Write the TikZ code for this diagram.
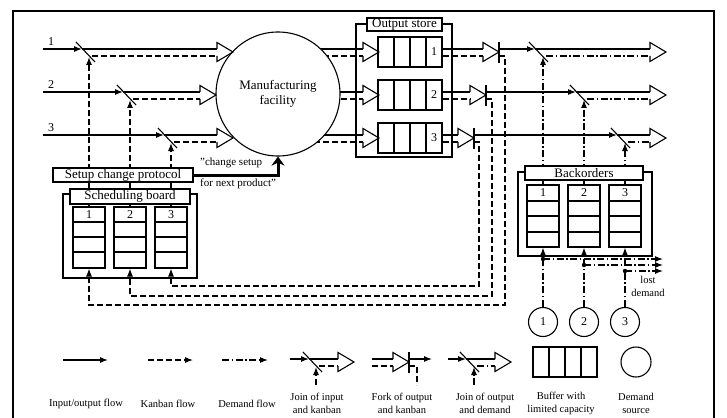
\documentclass[tikz,border=0pt]{standalone}
\usepackage{fontspec}
\setmainfont{Liberation Serif}
\usetikzlibrary{positioning,arrows.meta,backgrounds}
\newcommand{\fsz}[2]{\fontsize{#1}{#2}\selectfont}

\begin{document}
\begin{tikzpicture}[x=1pt,y=-1pt,
   io/.style={line width=1.1pt},
   kb/.style={line width=1.1pt,dash pattern=on 6pt off 3pt},
   dm/.style={line width=1.1pt,dash pattern=on 7pt off 2.5pt on 1.5pt off 2.5pt},
   headed/.style={-{Latex[length=8pt,width=6pt]}},
   tag/.style={draw,fill=white,line width=1.1pt,inner sep=0pt,font=\fsz{13}{15}},
   col/.style={draw,line width=1.1pt,inner sep=0pt,minimum width=32pt},
   num/.style={font=\fsz{12}{14},inner sep=0pt},
   legtxt/.style={align=center,font=\fsz{10.5}{13},inner sep=0pt},
   hollowhead/.pic={\draw[line width=1.1pt] (0,-3) -- (0,-9.5) -- (16,0) -- (0,9.5) -- (0,4);},
   joinbar/.pic={\draw[line width=1.1pt] (-5,-10) -- (14,10);},
   forkbar/.pic={\draw[line width=1.1pt] (0,-10) -- (0,11);}]
 \useasboundingbox (0,0) rectangle (727,417);
 % frame, open at the bottom
 \draw[line width=2.5pt] (13,425) -- (13,11) -- (714,11) -- (714,425);

 % facility
 \node[draw,circle,fill=white,line width=1.1pt,minimum size=124pt,inner sep=0pt,
   align=center,font=\fsz{13}{15}] (fac) at (278,94) {Manufacturing\\facility};

 % scheduling board columns
 \draw[io] (63,194) rectangle (197,278);
 \foreach \i/\x in {1/89,2/130,3/171} {
   \node[col,minimum height=61pt] (sc\i) at (\x,237.5) {};
   \foreach \yy in {222,237,252} \draw[io] (\x-16,\yy) -- (\x+16,\yy);
   \node[num] at (\x,214.5) {\i};
 }
 % backorder columns
 \draw[io] (518,172) rectangle (652,256);
 \foreach \i/\x in {1/543,2/584,3/625} {
   \node[col,minimum height=62pt] (bo\i) at (\x,216) {};
   \foreach \yy in {201,216,232} \draw[io] (\x-16,\yy) -- (\x+16,\yy);
   \node[num] at (\x,193) {\i};
 }
 % output store
 \draw[io] (356,24) rectangle (452,157);

 % the three product rows
 \foreach \row/\cy/\ji/\hb/\fb/\jo/\kx/\ky in
   {1/52/81/217/483/534/505/305, 2/95/122/200/470/575/492/296, 3/138/163/217/458/616/479/286} {
   % input joined with kanban
   \node[num] (lab\row) at (51,\cy-10) {\row};
   \coordinate (in\row) at (43,\cy-3);
   \coordinate (ji\row) at (\ji+1,\cy-3);
   \draw[io,headed] (in\row) -- (ji\row);
   \pic at (\ji,\cy) {joinbar};
   \draw[io] (ji\row) -- (\hb,\cy-3);
   \draw[kb] (\ji+11,\cy+4) -- (\hb,\cy+4);
   \pic at (\hb,\cy) {hollowhead};
   \draw[kb,headed] (sc\row.north) -- (\ji+8,\cy+5);
   % facility to buffer
   \coordinate (out\row) at (278,\cy);
   \begin{scope}[on background layer]
     \draw[io] (out\row) ++(0,-3) -- (363,\cy-3);
     \draw[kb] (out\row) ++(0,4) -- (363,\cy+4);
   \end{scope}
   \pic at (363,\cy) {hollowhead};
   \node[col,minimum width=64pt,minimum height=30pt] (buf\row) at (410,\cy) {};
   \foreach \k in {1,2,3} \draw[io] (378+16*\k,\cy-15) -- ++(0,30);
   \node[num] at (434,\cy) {\row};
   % fork of output and kanban
   \draw[io] (buf\row.east) ++(0,-3) -- (\fb,\cy-3);
   \draw[kb] (buf\row.east) ++(0,4) -- (\fb,\cy+4);
   \pic at (\fb,\cy) {hollowhead};
   \coordinate (fk\row) at (\fb+16,\cy);
   \pic at (fk\row) {forkbar};
   \draw[kb,headed] (\fb+16,\cy+4) -| (\kx,\ky) -| (sc\row.south);
   % join of output and demand
   \coordinate (jo\row) at (\jo+1,\cy-3);
   \draw[io,headed] (\fb+16,\cy-3) -- (jo\row);
   \pic at (\jo,\cy) {joinbar};
   \draw[io] (jo\row) -- (650,\cy-3);
   \draw[dm] (\jo+12,\cy+4) -- (650,\cy+4);
   \pic at (650,\cy) {hollowhead};
   \draw[dm,headed] (bo\row.north) -- (\jo+9,\cy+5);
 }

 % boxes on top of the lines
 \node[tag,minimum width=75pt,minimum height=13pt] (store) at (404.5,24.5) {Output store};
 \node[tag,minimum width=140pt,minimum height=14pt] (setup) at (123,175) {Setup change protocol};
 \node[tag,minimum width=120pt,minimum height=15pt] (sched) at (130,196.5) {Scheduling board};
 \node[tag,minimum width=118pt,minimum height=14pt] (back) at (584,173) {Backorders};

 % setup change
 \draw[line width=3pt,-{Stealth[length=9pt,width=13pt]}] (setup.east) -| (fac.south);
 \node[anchor=west,font=\fsz{11}{13},inner sep=0pt] (cs1) at (200,163) {"change setup};
 \node[anchor=west,font=\fsz{11}{13},inner sep=0pt] (cs2) at (200,184) {for next product"};

 % demand sources and lost demand
 \foreach \row/\x/\y in {1/543/259,2/584/265,3/625/271} {
   \node[draw,circle,line width=1.1pt,minimum size=29pt,num] (src\row) at (\x,322) {\row};
   \coordinate (dot\row) at (\x,\y);
   \draw[dm,headed] (src\row) -- (bo\row.south);
   \draw[dm,headed] (dot\row) -- (663,\y);
   \fill (dot\row) circle (2.2pt);
 }
 \node[legtxt] (lost) at (648,286.5) {lost\\demand};

 % legend
 \draw[io,headed] (63,360) -- (108,360);
 \draw[kb,headed] (148,360) -- (193,360);
 \draw[dm,headed] (222,360) -- (268,360);
 \node[legtxt] at (86,404) {Input/output flow};
 \node[legtxt] at (168,404) {Kanban flow};
 \node[legtxt] at (247,404) {Demand flow};
 % join of input and kanban
 \draw[io,headed] (290,359) -- (309,359);
 \pic at (308,362) {joinbar};
 \draw[io] (309,359) -- (338,359);
 \draw[kb] (319,366) -- (338,366);
 \pic at (338,362) {hollowhead};
 \draw[kb,headed] (316,385) -- (316,367);
 \node[legtxt] at (317,403.5) {Join of input\\and kanban};
 % fork of output and kanban
 \draw[io] (372,359) -- (393,359);
 \draw[kb] (372,366) -- (393,366);
 \pic at (393,362) {hollowhead};
 \pic at (409,362) {forkbar};
 \draw[io,headed] (409,359) -- (432,359);
 \draw[kb] (409,366) -| (417,385);
 \node[legtxt] at (402,403.5) {Fork of output\\and kanban};
 % join of output and demand
 \draw[io,headed] (448,359) -- (466,359);
 \pic at (465,362) {joinbar};
 \draw[io] (466,359) -- (495,359);
 \draw[dm] (477,366) -- (495,366);
 \pic at (495,362) {hollowhead};
 \draw[dm,headed] (474,385) -- (474,367);
 \node[legtxt] at (485,403.5) {Join of output\\and demand};
 % buffer and source
 \node[col,minimum width=64pt,minimum height=30pt] (legbuf) at (565,362) {};
 \foreach \k in {1,2,3} \draw[io] (533+16*\k,347) -- ++(0,30);
 \node[legtxt] at (561,403.5) {Buffer with\\limited capacity};
 \node[draw,circle,line width=1.1pt,minimum size=30pt] (legsrc) at (636,362) {};
 \node[legtxt] at (636,403.5) {Demand\\source};
\end{tikzpicture}
\end{document}
